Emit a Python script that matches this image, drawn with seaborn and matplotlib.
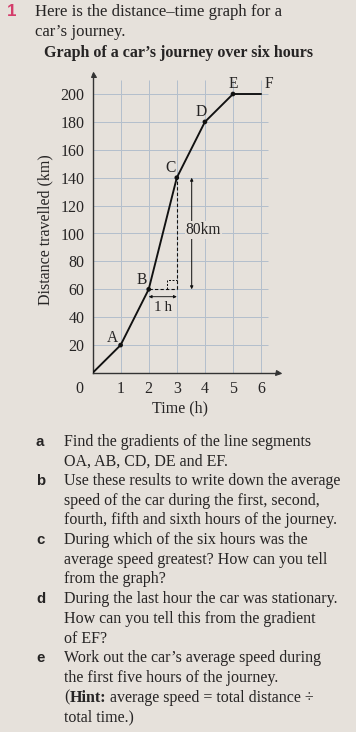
import matplotlib
matplotlib.use("Agg")
import matplotlib.pyplot as plt
import seaborn as sns
import pandas as pd

# ---- data ----
point_labels = ["O", "A", "B", "C", "D", "E", "F"]
time_h = [0, 1, 2, 3, 4, 5, 6]
distance_km = [0, 20, 60, 140, 180, 200, 200]
dotted_points = ["A", "B", "C", "D", "E"]
y_ticks = [20, 40, 60, 80, 100, 120, 140, 160, 180, 200]
x_ticks = [1, 2, 3, 4, 5, 6]

header_lines = ["Here is the distance\u2013time graph for a", "car\u2019s journey."]
title_text = "Graph of a car\u2019s journey over six hours"
questions = [
    ("a", ["Find the gradients of the line segments", "OA, AB, CD, DE and EF."]),
    ("b", ["Use these results to write down the average",
           "speed of the car during the first, second,",
           "fourth, fifth and sixth hours of the journey."]),
    ("c", ["During which of the six hours was the",
           "average speed greatest? How can you tell",
           "from the graph?"]),
    ("d", ["During the last hour the car was stationary.",
           "How can you tell this from the gradient",
           "of EF?"]),
    ("e", ["Work out the car\u2019s average speed during",
           "the first five hours of the journey.",
           "(|Hint:| average speed = total distance \u00f7",
           "total time.)"]),
]

df = pd.DataFrame({"label": point_labels, "time": time_h, "distance": distance_km})

BG = "#e6e1db"
INK = "#262424"
GRID = "#b4bfcc"
PINK = "#d43d6b"
BODY = 16.0

sns.set_theme(style="white")
plt.rcParams["font.family"] = ["Liberation Serif", "DejaVu Serif"]
plt.rcParams["text.color"] = INK

W, H = 356, 732
fig = plt.figure(figsize=(W / 72, H / 72), dpi=72, facecolor=BG)

def fx(px):
    return px / W

def fy(py):
    return 1 - py / H

# axes geometry (pixels)
x0_px, y0_px = 92.5, 373.0
xs, ys = 28.1, 1.395
x_end_px, y_end_px = 278.0, 74.0
ax = fig.add_axes([fx(x0_px), fy(y0_px), (x_end_px - x0_px) / W, (y0_px - y_end_px) / H])
ax.set_facecolor("none")
ax.set_xlim(0, (x_end_px - x0_px) / xs)
ax.set_ylim(0, (y0_px - y_end_px) / ys)

# grid
ax.hlines(y_ticks, 0, 6.26, color=GRID, lw=1.0, zorder=0)
ax.vlines(x_ticks, 0, 210, color=GRID, lw=1.0, zorder=0)

# main line and points
sns.lineplot(data=df, x="time", y="distance", ax=ax, color="#111111", lw=1.9,
             estimator=None, sort=False, zorder=3)
sns.scatterplot(data=df[df["label"].isin(dotted_points)], x="time", y="distance",
                ax=ax, color="#111111", s=22, edgecolor="none", zorder=4)

# point labels
label_offsets = {"A": (-8, 7), "B": (-7, 9), "C": (-6, 10), "D": (-4, 10),
                 "E": (0, 10.5), "F": (7.5, 10.5)}
for lab, t, d in zip(point_labels, time_h, distance_km):
    if lab in label_offsets:
        ox, oy = label_offsets[lab]
        ax.annotate(lab, xy=(t, d), xytext=(ox, oy), textcoords="offset points",
                    ha="center", va="center", fontsize=15.5, color=INK)

# construction lines (B -> C triangle)
tB, dB = time_h[2], distance_km[2]
tC, dC = time_h[3], distance_km[3]
ax.plot([tB, tC], [dB, dB], ls=(0, (3, 2)), color="#111111", lw=1.1, zorder=2)
ax.plot([tC, tC], [dB, dC], ls=(0, (3, 2)), color="#111111", lw=1.1, zorder=2)
ax.plot([tC - 0.35, tC - 0.35, tC], [dB, dB + 6.5, dB + 6.5], ls=(0, (2, 1.5)),
        color="#111111", lw=1.0, zorder=2)
ax.annotate("", xy=(tB, dB - 5.3), xytext=(tC, dB - 5.3),
            arrowprops=dict(arrowstyle="<|-|>", lw=0.9, color="#111111",
                            mutation_scale=6, shrinkA=0, shrinkB=0))
ax.annotate("1\u2009h", xy=((tB + tC) / 2, dB - 5.3), xytext=(0, -10.5),
            textcoords="offset points", ha="center", va="center", fontsize=15, color=INK)
ax.annotate("", xy=(3.53, dC), xytext=(3.53, dB),
            arrowprops=dict(arrowstyle="<|-|>", lw=1.0, color="#111111",
                            mutation_scale=6, shrinkA=0, shrinkB=0))
ax.text(3.32, 102.5, "80km", ha="left", va="center", fontsize=15.5, color=INK,
        bbox=dict(facecolor=BG, edgecolor="none", pad=1.0), zorder=5)

# axes styling
for s in ["top", "right"]:
    ax.spines[s].set_visible(False)
for s in ["left", "bottom"]:
    ax.spines[s].set_color("#333333")
    ax.spines[s].set_linewidth(1.4)
ax.plot(1, 0, ">", transform=ax.transAxes, clip_on=False, color="#333333", ms=5)
ax.plot(0, 1, "^", transform=ax.transAxes, clip_on=False, color="#333333", ms=5)

ax.set_yticks(y_ticks)
ax.set_xticks(x_ticks)
ax.tick_params(length=0, labelsize=16, colors=INK)
ax.tick_params(axis="y", pad=8)
ax.tick_params(axis="x", pad=8)
ax.set_xlabel("")
ax.set_ylabel("")
ax.annotate("0", xy=(0, 0), xytext=(-13.5, -8), textcoords="offset points",
            ha="center", va="top", fontsize=16, color=INK)

fig.text(fx(180), fy(408), "Time (h)", ha="center", va="center", fontsize=16)
fig.text(fx(45), fy(230), "Distance travelled (km)", ha="center", va="center",
         rotation=90, fontsize=16)

# header
fig.text(fx(7), fy(16), "1", ha="left", va="baseline", fontsize=17,
         fontweight="bold", color=PINK, family=["Liberation Sans", "DejaVu Sans"])
fig.text(fx(35), fy(16), header_lines[0], ha="left", va="baseline", fontsize=16.7)
fig.text(fx(35), fy(35.5), header_lines[1], ha="left", va="baseline", fontsize=16.7)
fig.text(fx(178), fy(57), title_text, ha="center", va="baseline", fontsize=16,
         fontweight="bold")

# questions
renderer = fig.canvas.get_renderer()
baseline = 445.5
step = 19.7
for letter, lines in questions:
    fig.text(fx(36), fy(baseline), letter, ha="left", va="baseline", fontsize=15,
             fontweight="bold", family=["Liberation Sans", "DejaVu Sans"])
    for line in lines:
        if "|" in line:
            parts = line.split("|")
            xpos = 64.0
            for i, part in enumerate(parts):
                t = fig.text(fx(xpos), fy(baseline), part, ha="left", va="baseline",
                             fontsize=BODY, fontweight="bold" if i % 2 else "normal")
                bb = t.get_window_extent(renderer=renderer)
                xpos += bb.width
        else:
            fig.text(fx(64), fy(baseline), line, ha="left", va="baseline", fontsize=BODY)
        baseline += step

fig.savefig("out.png", dpi=72, facecolor=BG)
